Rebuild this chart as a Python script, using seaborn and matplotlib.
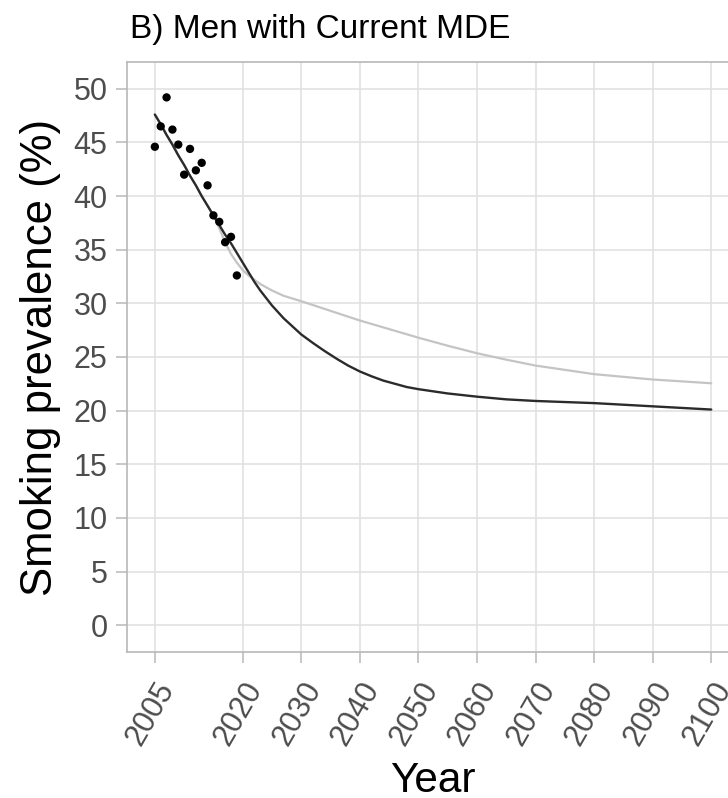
import matplotlib
matplotlib.use("Agg")
import matplotlib.pyplot as plt
import pandas as pd
import seaborn as sns

# observed prevalence (points)
obs_years = [2005, 2006, 2007, 2008, 2009, 2010, 2011, 2012, 2013, 2014,
             2015, 2016, 2017, 2018, 2019]
obs_prev = [44.6, 46.5, 49.2, 46.2, 44.8, 42.0, 44.4, 42.4, 43.1, 41.0,
            38.2, 37.6, 35.7, 36.2, 32.6]

# projection, dark line
dark_years = [2005, 2006, 2007, 2008, 2009, 2010, 2011, 2012, 2013, 2014,
              2015, 2016, 2017, 2018, 2019, 2020, 2021, 2022, 2023, 2024,
              2025, 2026, 2027, 2028, 2029, 2030, 2032, 2034, 2036, 2038,
              2040, 2042, 2044, 2046, 2048, 2050, 2055, 2060, 2065, 2070,
              2080, 2090, 2100]
dark_prev = [47.6, 46.7, 45.7, 44.8, 43.8, 42.9, 41.9, 41.0, 40.0, 39.1,
             38.2, 37.3, 36.4, 35.6, 34.7, 33.8, 32.9, 32.0, 31.2, 30.5,
             29.8, 29.2, 28.6, 28.1, 27.6, 27.1, 26.3, 25.55, 24.85, 24.2,
             23.65, 23.2, 22.8, 22.5, 22.2, 22.0, 21.6, 21.3, 21.05, 20.9,
             20.7, 20.4, 20.1]

# projection, light line
light_years = [2005, 2006, 2007, 2008, 2009, 2010, 2011, 2012, 2013, 2014,
               2015, 2016, 2017, 2018, 2019, 2020, 2021, 2022, 2023, 2024,
               2025, 2027, 2030, 2035, 2040, 2045, 2050, 2055, 2060, 2065,
               2070, 2075, 2080, 2090, 2100]
light_prev = [47.6, 46.7, 45.7, 44.8, 43.8, 42.9, 41.9, 41.0, 40.0, 39.1,
              38.2, 37.0, 35.7, 34.6, 33.8, 33.1, 32.6, 32.2, 31.8, 31.5,
              31.2, 30.7, 30.2, 29.3, 28.4, 27.6, 26.8, 26.05, 25.35, 24.75,
              24.2, 23.8, 23.4, 22.9, 22.55]

x_ticks = [2005, 2020, 2030, 2040, 2050, 2060, 2070, 2080, 2090, 2100]
y_ticks = list(range(0, 51, 5))

obs_df = pd.DataFrame({"Year": obs_years, "prev": obs_prev})
dark_df = pd.DataFrame({"Year": dark_years, "prev": dark_prev})
light_df = pd.DataFrame({"Year": light_years, "prev": light_prev})

sns.set_theme(style="whitegrid")
plt.rcParams["font.family"] = ["Liberation Sans", "DejaVu Sans"]

fig = plt.figure(figsize=(7.28, 7.98), dpi=100)
# panel runs past the right edge, as in the cropped original
ax = fig.add_axes([0.1745, 0.183, 0.8407, 0.7393])

sns.lineplot(data=light_df, x="Year", y="prev", ax=ax, color="#c4c4c4", lw=1.6)
sns.lineplot(data=dark_df, x="Year", y="prev", ax=ax, color="#2b2b2b", lw=1.7)
sns.scatterplot(data=obs_df, x="Year", y="prev", ax=ax, color="black", s=36,
                edgecolor="none", zorder=5)

ax.set_xlim(2000.25, 2104.75)
ax.set_ylim(-2.5, 52.5)
ax.set_xticks(x_ticks)
ax.set_yticks(y_ticks)
ax.set_xticklabels([str(t) for t in x_ticks], rotation=60, ha="right",
                   va="top", rotation_mode="anchor", fontsize=22,
                   color="#4d4d4d")
ax.set_yticklabels([str(t) for t in y_ticks], fontsize=22, color="#4d4d4d")
ax.grid(True, color="#e2e2e2", lw=1.2)
for s in ax.spines.values():
    s.set_color("#b8b8b8")
    s.set_linewidth(1.2)
ax.tick_params(axis="both", length=8, width=1.1, color="#b8b8b8",
               bottom=True, left=True)
ax.tick_params(axis="y", pad=6)
ax.tick_params(axis="x", pad=10)

ax.set_xlabel("Year", fontsize=30.5, color="black", va="baseline")
ax.xaxis.set_label_coords(0.5, -0.237)
ax.set_ylabel("Smoking prevalence (%)", fontsize=31.5, color="black",
              va="baseline")
ax.yaxis.set_label_coords(-0.122, 0.5)
fig.text(0.178, 0.952, "B) Men with Current MDE", fontsize=24, color="black",
         ha="left", va="baseline")

fig.savefig("out.png", dpi=100)
